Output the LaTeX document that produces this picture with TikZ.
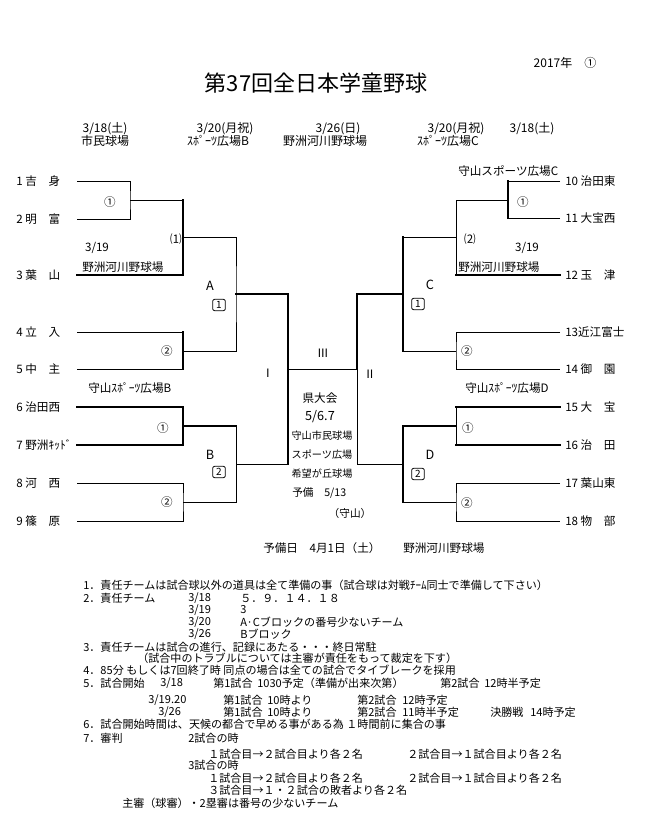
\documentclass[tikz,border=0pt]{standalone}
\usepackage{fontspec}
\setmainfont{Noto Sans CJK JP}
\usetikzlibrary{positioning,calc}
\newcommand{\fsz}[1]{\fontsize{#1}{#1}\selectfont}

\begin{document}
\begin{tikzpicture}[
  x=0.75pt, y=-0.75pt,
  ln/.style={line width=0.7pt},
  bd/.style={line width=2.2pt, line cap=rect},
  tm/.style={anchor=west, inner sep=0pt, font=\fsz{8.7}},
  lb/.style={inner sep=0pt, font=\fsz{8.7}},
  hd/.style={inner sep=0pt, font=\fsz{9}},
  sm/.style={inner sep=0pt, font=\fsz{7.6}},
  nt/.style={anchor=west, inner sep=0pt, font=\fsz{8.3}},
  bx/.style={draw, rounded corners=1.5pt, inner sep=1pt, line width=0.6pt, font=\fsz{7.5}, minimum height=8.5pt, minimum width=9.5pt}
]
\useasboundingbox (0,0) rectangle (645,815);

% title and dates
\node[font=\fsz{16.5}, inner sep=0pt] (ttl) at (316,83) {第37回全日本学童野球};
\node[hd] (yr) at (565,63) {2017年　①};
\node[hd] (d1) at (105,129) {3/18(土)};
\node[hd] (g1) at (105,141) {市民球場};
\node[hd] (d2) at (225,129) {3/20(月祝)};
\node[hd] (g2) at (218,141) {ｽﾎﾟｰﾂ広場B};
\node[hd] (d3) at (338,129) {3/26(日)};
\node[hd] (g3) at (325,141) {野洲河川野球場};
\node[hd] (d4) at (456,129) {3/20(月祝)};
\node[hd] (g4) at (448,141) {ｽﾎﾟｰﾂ広場C};
\node[hd] (d5) at (532,129) {3/18(土)};

% teams, left
\node[tm] (t1) at (16,181) {1 吉　身};
\node[tm] (t2) at (16,219) {2 明　富};
\node[tm] (t3) at (16,275) {3 葉　山};
\node[tm] (t4) at (16,332) {4 立　入};
\node[tm] (t5) at (16,369) {5 中　主};
\node[tm] (t6) at (16,407) {6 治田西};
\node[tm] (t7) at (16,445) {7 野洲ｷｯﾄﾞ};
\node[tm] (t8) at (16,483) {8 河　西};
\node[tm] (t9) at (16,521) {9 篠　原};
% teams, right
\node[tm] (t10) at (565,181) {10 治田東};
\node[tm] (t11) at (565,218) {11 大宝西};
\node[tm] (t12) at (565,275) {12 玉　津};
\node[tm] (t13) at (565,332) {13近江富士};
\node[tm] (t14) at (565,369) {14 御　園};
\node[tm] (t15) at (565,407) {15 大　宝};
\node[tm] (t16) at (565,445) {16 治　田};
\node[tm] (t17) at (565,483) {17 葉山東};
\node[tm] (t18) at (565,521) {18 物　部};

% line ends
\coordinate (s1) at (77,181);  \coordinate (s2) at (77,219);
\coordinate (s3) at (77,275);  \coordinate (s4) at (77,332);
\coordinate (s5) at (77,369);  \coordinate (s6) at (77,407);
\coordinate (s7) at (77,445);  \coordinate (s8) at (77,483);
\coordinate (s9) at (77,521);
\coordinate (s10) at (560,181); \coordinate (s11) at (560,218);
\coordinate (s12) at (560,275); \coordinate (s13) at (560,332);
\coordinate (s14) at (560,369); \coordinate (s15) at (560,407);
\coordinate (s16) at (560,445); \coordinate (s17) at (560,483);
\coordinate (s18) at (560,521);
% junctions
\coordinate (m1) at (130,200); \coordinate (m2) at (183,237);
\coordinate (m3) at (183,351); \coordinate (mA) at (236,294);
\coordinate (m4) at (183,426); \coordinate (m5) at (183,502);
\coordinate (mB) at (236,464); \coordinate (mL) at (288,369);
\coordinate (n1) at (508,200); \coordinate (n2) at (456,237);
\coordinate (n3) at (456,351); \coordinate (mC) at (403,294);
\coordinate (n4) at (456,426); \coordinate (n5) at (456,502);
\coordinate (mD) at (403,464); \coordinate (mR) at (357,369);

% block A
\draw[ln] (s1) -| (m1) |- (s2);
\draw[ln] (m1) -- (m1 -| m2);
\draw[bd] (m1 -| m2) |- (s3);
\draw[ln] (m2) -| (mA) |- (m3);
\draw[ln] (s4) -- (s4 -| m3); \draw[ln] (s5) -- (s5 -| m3);
\draw[bd] (s4 -| m3) -- (s5 -| m3);
\draw[bd] (mA) -| (mB -| mL);
% block B
\draw[bd] (s6) -| (m4) |- (s7);
\draw[bd] (m4) -- (m4 -| mB);
\draw[ln] (m4 -| mB) |- (m5);
\draw[ln] (s8) -| (m5) |- (s9);
\draw[ln] (mB) -- (mB -| mL);
% final
\draw[ln] (mL) -- (mR);
% block C
\draw[ln] (s10) -- (s10 -| n1); \draw[ln] (s11) -- (s11 -| n1);
\draw[bd] (s10 -| n1) -- (s11 -| n1);
\draw[ln] (n1) -| (s12 -| n2);
\draw[bd] (s12 -| n2) -- (s12);
\draw[ln] (n2) -- (n2 -| mC);
\draw[bd] (n2 -| mC) -- (n3 -| mC);
\draw[bd] (mC) -| (mR);
\draw[ln] (n3) -- (n3 -| mC);
\draw[ln] (s13) -| (n3) |- (s14);
% block D
\draw[ln] (mR) |- (mD);
\draw[bd] (s15) -- (s15 -| n4); \draw[bd] (s16) -- (s16 -| n4);
\draw[ln] (s15 -| n4) -- (s16 -| n4);
\draw[bd] (n4) -| (n5 -| mD);
\draw[ln] (n5) -- (n5 -| mD);
\draw[ln] (s17) -| (n5) |- (s18);

% match labels, left
\node[lb] (a1) at (110,202) {①};
\node[lb] (a2) at (176,239) {⑴};
\node[lb] (a3) at (97,248) {3/19};
\node[tm] (a4) at (82,267) {野洲河川野球場};
\node[lb, font=\fsz{9.5}] (la) at (210,286) {A};
\node[bx] (ba) at (219,305) {1};
\node[lb] (a5) at (167,351) {②};
\node[tm] (a6) at (88,388) {守山ｽﾎﾟｰﾂ広場B};
\node[lb] (a7) at (163,428) {①};
\node[lb, font=\fsz{9.5}] (lbB) at (210,455) {B};
\node[bx] (bb) at (219,472) {2};
\node[lb] (a8) at (167,502) {②};
\node[lb] (r1) at (268,373) {Ⅰ};
\node[lb] (r3) at (323,353) {Ⅲ};
% match labels, right
\node[tm] (c0) at (458,171) {守山スポーツ広場C};
\node[lb] (c1) at (523,202) {①};
\node[lb] (c2) at (470,239) {⑵};
\node[lb] (c3) at (527,248) {3/19};
\node[tm] (c4) at (458,267) {野洲河川野球場};
\node[lb, font=\fsz{9.5}] (lc) at (430,285) {C};
\node[bx] (bc) at (418,304) {1};
\node[lb] (c5) at (467,351) {②};
\node[tm] (c6) at (465,388) {守山ｽﾎﾟｰﾂ広場D};
\node[lb] (c7) at (468,428) {①};
\node[lb, font=\fsz{9.5}] (ld) at (430,455) {D};
\node[bx] (bd) at (418,474) {2};
\node[lb] (c8) at (467,503) {②};
\node[lb] (r2) at (370,374) {Ⅱ};

% centre
\node[lb] (k1) at (320,398) {県大会};
\node[lb, font=\fsz{9.5}] (k2) at (320,417) {5/6.7};
\node[sm] (k3) at (322,436) {守山市民球場};
\node[sm] (k4) at (322,455) {スポーツ広場};
\node[sm] (k5) at (322,474) {希望が丘球場};
\node[nt, font=\fsz{8}] (k6) at (292,493) {予備　5/13};
\node[sm, font=\fsz{8}] (k7) at (350,513) {（守山）};
\node[tm] (k8) at (263,548) {予備日　4月1日（土）};
\node[tm] (k9) at (403,548) {野洲河川野球場};

% notes
\node[nt] (p1) at (83,585) {1．責任チームは試合球以外の道具は全て準備の事（試合球は対戦ﾁｰﾑ同士で準備して下さい）};
\node[nt] (p2) at (83,598) {2．責任チーム};
\node[nt] (p2a) at (188,598) {3/18};
\node[nt] (p2b) at (240,598) {５．９．１４．１８};
\node[nt] (p2c) at (188,610) {3/19};
\node[nt] (p2d) at (240,610) {3};
\node[nt] (p2e) at (188,622) {3/20};
\node[nt] (p2f) at (240,622) {A·Cブロックの番号少ないチーム};
\node[nt] (p2g) at (188,634) {3/26};
\node[nt] (p2h) at (240,634) {Bブロック};
\node[nt] (p3) at (83,647) {3．責任チームは試合の進行、記録にあたる・・・終日常駐};
\node[nt] (p3a) at (137,658) {（試合中のトラブルについては主審が責任をもって裁定を下す）};
\node[nt] (p4) at (83,670) {4．85分 もしくは7回終了時 同点の場合は全ての試合でタイブレークを採用};
\node[nt] (p5) at (83,683) {5．試合開始};
\node[nt] (p5a) at (160,683) {3/18};
\node[nt] (p5b) at (213,683) {第1試合};
\node[nt] (p5c) at (257,683) {1030予定（準備が出来次第）};
\node[nt] (p5d) at (440,683) {第2試合};
\node[nt] (p5e) at (484,683) {12時半予定};
\node[nt] (p5f) at (148,700) {3/19.20};
\node[nt] (p5g) at (223,700) {第1試合};
\node[nt] (p5h) at (267,700) {10時より};
\node[nt] (p5i) at (357,700) {第2試合};
\node[nt] (p5j) at (402,700) {12時予定};
\node[nt] (p5k) at (158,712) {3/26};
\node[nt] (p5l) at (223,712) {第1試合};
\node[nt] (p5m) at (267,712) {10時より};
\node[nt] (p5n) at (357,712) {第2試合};
\node[nt] (p5o) at (402,712) {11時半予定};
\node[nt] (p5p) at (490,712) {決勝戦};
\node[nt] (p5q) at (530,712) {14時予定};
\node[nt] (p6) at (83,724) {6．試合開始時間は、天候の都合で早める事がある為 １時間前に集合の事};
\node[nt] (p7) at (83,738) {7．審判};
\node[nt] (p7a) at (188,738) {2試合の時};
\node[nt] (p7b) at (208,754) {１試合目→２試合目より各２名};
\node[nt] (p7c) at (407,754) {２試合目→１試合目より各２名};
\node[nt] (p7d) at (188,765) {3試合の時};
\node[nt] (p7e) at (208,778) {１試合目→２試合目より各２名};
\node[nt] (p7f) at (407,778) {２試合目→１試合目より各２名};
\node[nt] (p7g) at (208,790) {３試合目→１・２試合の敗者より各２名};
\node[nt] (p8) at (122,803) {主審（球審）・2塁審は番号の少ないチーム};
\end{tikzpicture}
\end{document}
